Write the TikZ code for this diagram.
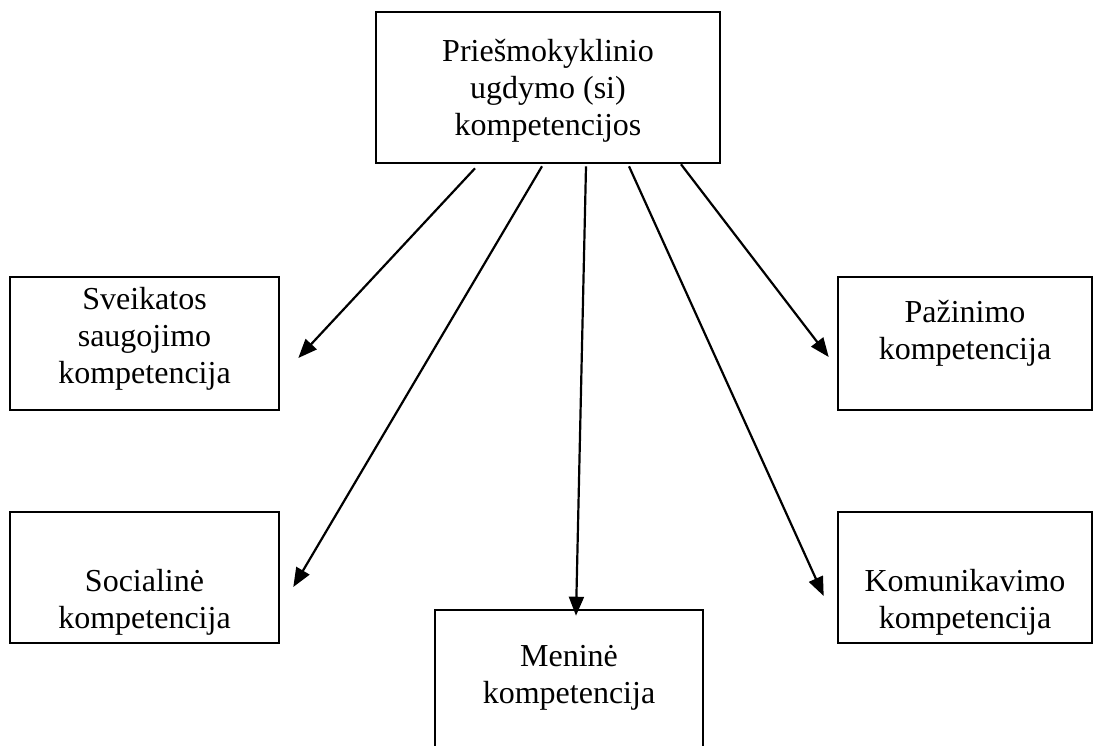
\documentclass[tikz,border=0pt]{standalone}
\usepackage{fontspec}
\setmainfont{Liberation Serif}
\usetikzlibrary{arrows.meta}

\begin{document}
\begin{tikzpicture}[x=1pt,y=-1pt,
    box/.style={draw,line width=2.6pt,inner sep=0pt},
    txt/.style={align=center,inner sep=0pt,font=\fontsize{32}{37}\selectfont},
    arr/.style={line width=2.2pt,-{Triangle[length=19pt,width=15pt]}}]
    \useasboundingbox (0,0) rectangle (1095,746);

    \node[box,minimum width=344pt,minimum height=151pt] (prie) at (548,87.5) {};
    \node[box,minimum width=269pt,minimum height=133pt] (sveik) at (144.5,343.5) {};
    \node[box,minimum width=254pt,minimum height=133pt] (pazin) at (965,343.5) {};
    \node[box,minimum width=269pt,minimum height=131pt] (soc) at (144.5,577.5) {};
    \node[box,minimum width=254pt,minimum height=131pt] (kom) at (965,577.5) {};
    \node[box,minimum width=268pt,minimum height=170pt] (men) at (569,695) {};

    \node[txt] (prietxt) at (548,91) {Priešmokyklinio\\ugdymo (si)\\kompetencijos};
    \node[txt] (sveiktxt) at (144.5,339) {Sveikatos\\saugojimo\\kompetencija};
    \node[txt] (pazintxt) at (965,333.5) {Pažinimo\\kompetencija};
    \node[txt] (soctxt) at (144.5,602.5) {Socialinė\\kompetencija};
    \node[txt] (komtxt) at (965,602.5) {Komunikavimo\\kompetencija};
    \node[txt] (mentxt) at (569,678) {Meninė\\kompetencija};

    \coordinate (sveiktip) at ([xshift=18pt,yshift=-14.5pt]sveik.east);
    \coordinate (soctip) at ([xshift=13pt,yshift=-9.5pt]soc.east);
    \coordinate (mentip) at ([xshift=7pt,yshift=-7pt]men.north);
    \coordinate (komtip) at ([xshift=-13pt,yshift=-18.5pt]kom.west);
    \coordinate (pazintip) at ([xshift=-8pt,yshift=-13.5pt]pazin.west);

    \draw[arr] ([xshift=-73pt,yshift=-4pt]prie.south) -- (sveiktip);
    \draw[arr] ([xshift=-6pt,yshift=-2pt]prie.south) -- (soctip);
    \draw[arr] ([xshift=38pt,yshift=-2pt]prie.south) -- (mentip);
    \draw[arr] ([xshift=81pt,yshift=-2pt]prie.south) -- (komtip);
    \draw[arr] ([xshift=133pt]prie.south) -- (pazintip);
\end{tikzpicture}
\end{document}
